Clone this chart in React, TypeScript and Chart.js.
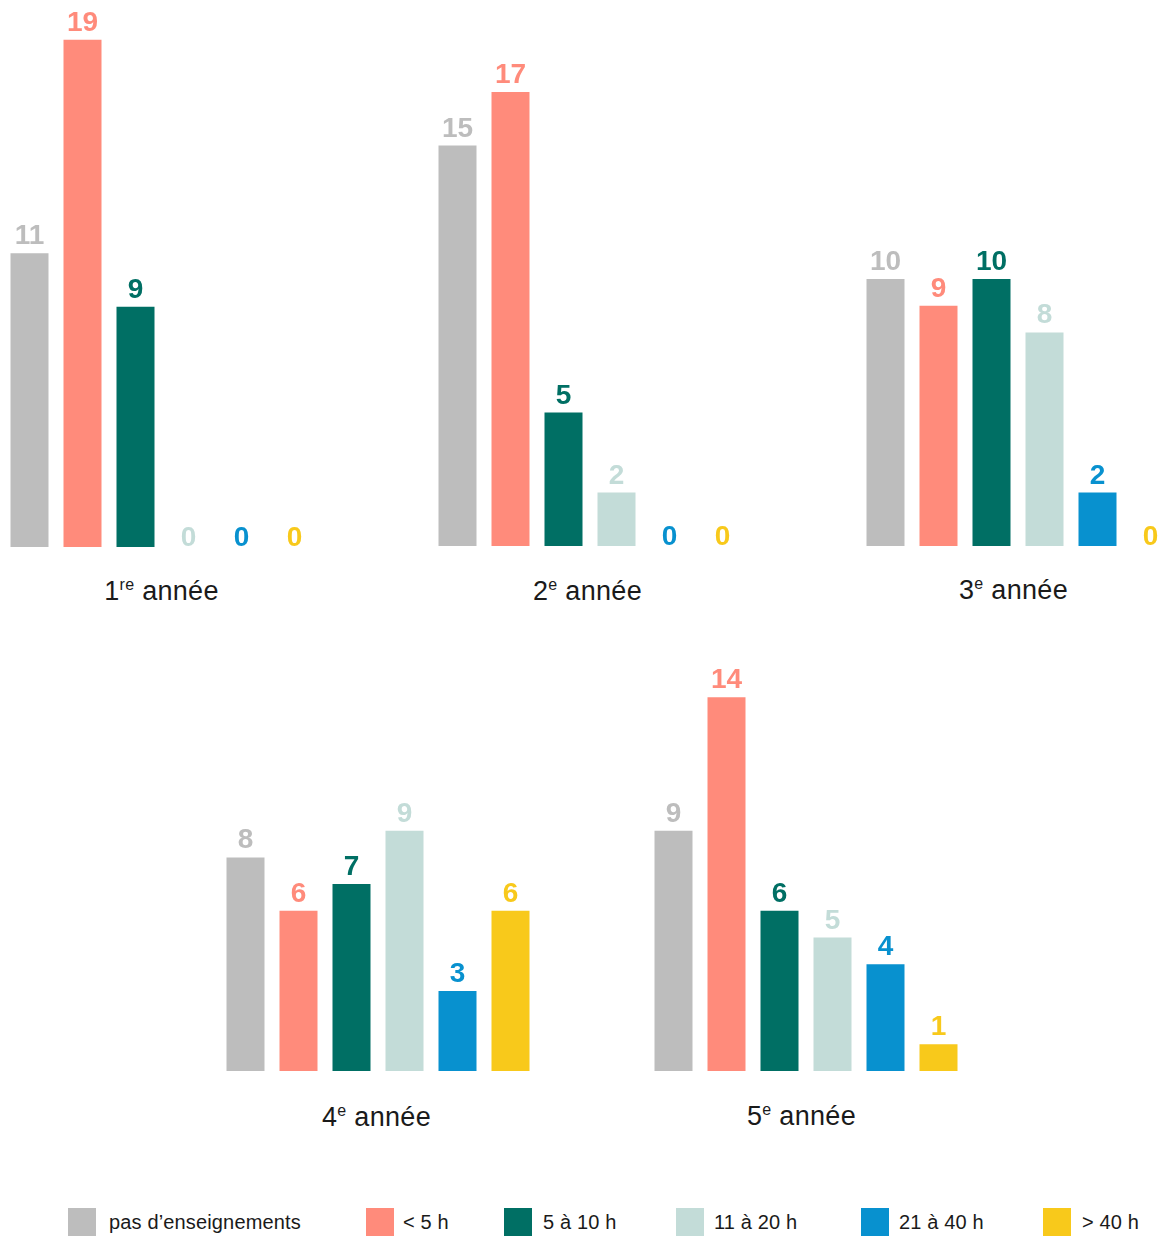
import React, { useEffect, useRef } from "react";
import { Chart, registerables } from "chart.js";

Chart.register(...registerables);

// ---- Data ----
const categories = ["pas d’enseignements", "< 5 h", "5 à 10 h", "11 à 20 h", "21 à 40 h", "> 40 h"];
const colors = ["#BDBDBD", "#FF8B7B", "#006F64", "#C3DCD8", "#0891CF", "#F8C91B"];
const yearNumbers = ["1", "2", "3", "4", "5"];
const yearSuffixes = ["re", "e", "e", "e", "e"];
const annee1 = [11, 19, 9, 0, 0, 0];
const annee2 = [15, 17, 5, 2, 0, 0];
const annee3 = [10, 9, 10, 8, 2, 0];
const annee4 = [8, 6, 7, 9, 3, 6];
const annee5 = [9, 14, 6, 5, 4, 1];
const allYears = [annee1, annee2, annee3, annee4, annee5];

// ---- Layout ----
const PX_PER_UNIT = 26.7;
const CHART_W = 318;
const panels = [
  { left: 2.5, top: 0, height: 547, titleTop: 576, titleShift: 0 },
  { left: 430.5, top: 0, height: 546, titleTop: 576, titleShift: -2 },
  { left: 858.5, top: 0, height: 546, titleTop: 575, titleShift: -4 },
  { left: 218.5, top: 640, height: 431, titleTop: 1102, titleShift: -1 },
  { left: 646.5, top: 640, height: 431, titleTop: 1101, titleShift: -4 },
];
const legendSquareX = [68, 366, 504, 676, 861, 1043];
const legendTextX = [109, 403, 543, 714, 899, 1082];

const FONT = "'Liberation Sans', Arial, sans-serif";

const valueLabels = {
  id: "valueLabels",
  afterDatasetsDraw(chart: any) {
    const ctx = chart.ctx;
    const meta = chart.getDatasetMeta(0);
    const data = chart.data.datasets[0].data as number[];
    ctx.save();
    ctx.font = `bold 28px ${FONT}`;
    ctx.textAlign = "center";
    ctx.textBaseline = "alphabetic";
    meta.data.forEach((bar: any, i: number) => {
      const v = data[i];
      ctx.fillStyle = colors[i];
      ctx.fillText(String(v), bar.x, bar.y - (v > 0 ? 9 : 1));
    });
    ctx.restore();
  },
};

function Panel({ values, height }: { values: number[]; height: number }) {
  const ref = useRef<HTMLCanvasElement>(null);
  useEffect(() => {
    if (!ref.current) return;
    const chart = new Chart(ref.current, {
      type: "bar",
      data: {
        labels: categories,
        datasets: [
          {
            data: values,
            backgroundColor: colors,
            borderWidth: 0,
            barPercentage: 38 / 53,
            categoryPercentage: 1,
          },
        ],
      },
      options: {
        animation: false,
        responsive: true,
        maintainAspectRatio: false,
        devicePixelRatio: 1,
        layout: { padding: 0 },
        plugins: { legend: { display: false }, tooltip: { enabled: false }, title: { display: false } },
        scales: {
          x: { display: false },
          y: { display: false, min: 0, max: height / PX_PER_UNIT },
        },
      },
      plugins: [valueLabels],
    });
    return () => chart.destroy();
  }, [values, height]);
  return <canvas ref={ref} />;
}

export default function App() {
  return (
    <div
      style={{
        position: "absolute",
        left: 0,
        top: 0,
        width: 1166,
        height: 1236,
        overflow: "hidden",
        background: "#fff",
        fontFamily: FONT,
      }}
    >
      {panels.map((p, i) => (
        <React.Fragment key={i}>
          <div style={{ position: "absolute", left: p.left, top: p.top, width: CHART_W, height: p.height }}>
            <Panel values={allYears[i]} height={p.height} />
          </div>
          <div
            style={{
              position: "absolute",
              left: p.left + p.titleShift,
              top: p.titleTop,
              width: CHART_W,
              textAlign: "center",
              fontSize: 27,
              lineHeight: "30px",
              color: "#1a1a1a",
              letterSpacing: 0.3,
            }}
          >
            {yearNumbers[i]}
            <span style={{ fontSize: 16, position: "relative", top: -10 }}>{yearSuffixes[i]}</span> année
          </div>
        </React.Fragment>
      ))}
      {categories.map((c, i) => (
        <React.Fragment key={c}>
          <div
            style={{
              position: "absolute",
              left: legendSquareX[i],
              top: 1208,
              width: 28,
              height: 28,
              background: colors[i],
            }}
          />
          <div
            style={{
              position: "absolute",
              left: legendTextX[i],
              top: 1209,
              fontSize: 20,
              lineHeight: "26px",
              color: "#1a1a1a",
              whiteSpace: "nowrap",
              letterSpacing: 0.15,
            }}
          >
            {c}
          </div>
        </React.Fragment>
      ))}
    </div>
  );
}
